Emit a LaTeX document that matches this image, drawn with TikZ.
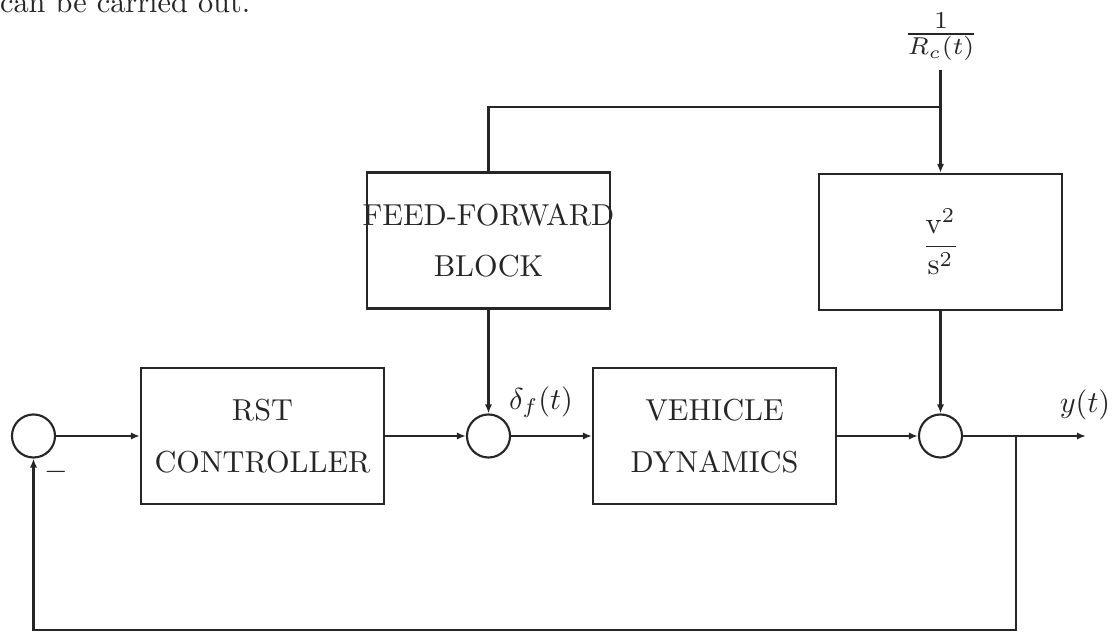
\documentclass[tikz,border=0pt]{standalone}
\usetikzlibrary{arrows.meta}
\begin{document}
\begin{tikzpicture}[x=0.33pt,y=-0.33pt,
  color=black!85,
  line width=0.7pt,
  blk/.style={draw, minimum width=80.2pt, minimum height=44.9pt, inner sep=0pt, align=center, font=\fontsize{10pt}{17pt}\selectfont},
  sum/.style={draw, circle, minimum size=14.2pt, inner sep=0pt},
  arr/.style={-{Latex[length=3pt,width=2.4pt]}}
]
\useasboundingbox (0,0) rectangle (1115,632);
\node[anchor=base west, inner sep=0pt] (txt) at (-1,13) {can be carried out.};

\node[sum] (s1) at (33.5,436) {};
\node[blk] (rst) at (262.5,436) {RST\\CONTROLLER};
\node[sum] (s2) at (488.5,436) {};
\node[blk] (veh) at (714.5,436) {VEHICLE\\DYNAMICS};
\node[sum] (s3) at (940.5,436) {};
\node[blk] (ff) at (488.5,240.5) {\makebox[0pt]{FEED-FORWARD}\\BLOCK};
\node[blk] (v2) at (940.5,242) {$\displaystyle\frac{\mathrm{v}^2}{\mathrm{s}^2}$};
\node[scale=1.15] (rc) at (941,37) {$\frac{1}{R_c(t)}$};

\coordinate (rtop) at (940.5,70);
\coordinate (j1) at (940.5,107);
\coordinate (j2) at (488.5,107);
\draw[arr] (rtop) -- (v2.north);
\draw (j1) -- (j2) -- (ff.north);
\draw[arr] (ff.south) -- (s2.north);
\draw[arr] (v2.south) -- (s3.north);
\draw[arr] (s1) -- (rst);
\draw[arr] (rst) -- (s2);
\draw[arr] (s2) -- (veh);
\draw[arr] (veh) -- (s3);
\coordinate (yout) at (1086,436);
\draw[arr] (s3) -- (yout);
\coordinate (fb) at (1016,436);
\coordinate (fbb) at (1016,630);
\draw[arr] (fb) -- (fbb) -| (s1.south);

\node (df) at (541,402) {$\delta_f(t)$};
\node (yt) at (1085,405) {$y(t)$};
\node (mn) at (56,472) {$-$};
\end{tikzpicture}
\end{document}
